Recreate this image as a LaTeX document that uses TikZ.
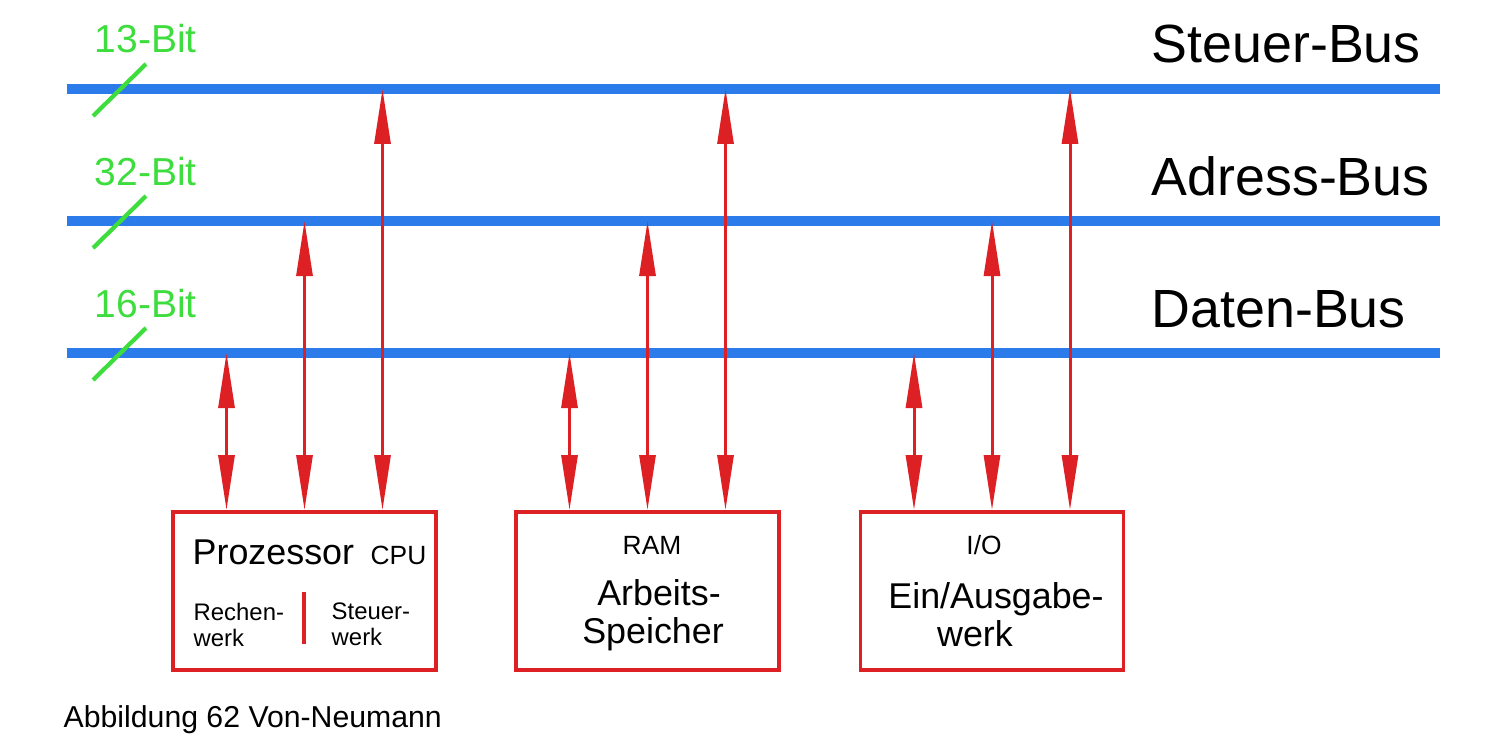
\documentclass[tikz,border=0pt]{standalone}
\usepackage{fontspec}
\setmainfont{Liberation Sans}
\usetikzlibrary{arrows.meta}
\definecolor{busblue}{RGB}{43,123,234}
\definecolor{bitgreen}{RGB}{62,221,62}
\definecolor{boxred}{RGB}{221,32,36}

\begin{document}
\begin{tikzpicture}[
    bus/.style={
        draw=busblue,
        line width=2.8pt
    },
    slash/.style={
        draw=bitgreen,
        line width=1.2pt
    },
    bitlbl/.style={
        text=bitgreen,
        inner sep=0,
        anchor=base west,
        font=\fontsize{11.1}{13}\selectfont
    },
    buslbl/.style={
        inner sep=0,
        anchor=base west,
        font=\fontsize{15.3}{18}\selectfont
    },
    box/.style={
        draw=boxred,
        line width=1.1pt,
        minimum width=2.63cm,
        minimum height=1.58cm,
        inner sep=0
    },
    arr/.style={
        {Triangle[length=5.5mm,width=1.6mm]}-{Triangle[length=5.5mm,width=1.6mm]},
        draw=boxred,
        line width=0.85pt
    },
    divider/.style={
        draw=boxred,
        line width=1.2pt
    },
    boxtxt/.style={
        inner sep=0,
        align=center,
        font=\fontsize{10.2}{10.9}\selectfont
    },
    tagtxt/.style={
        inner sep=0,
        anchor=base,
        font=\fontsize{7.5}{9}\selectfont
    },
    subtxt/.style={
        inner sep=0,
        anchor=north west,
        align=left,
        font=\fontsize{6.8}{7.4}\selectfont
    }
]

\useasboundingbox (0,0) rectangle (14.9,-7.42);

% ============================================================
% Buses
% ============================================================

\foreach \name/\y/\bits/\txt in {steuer/0.89/13/Steuer-Bus,
                                 adress/2.21/32/Adress-Bus,
                                 daten/3.53/16/Daten-Bus} {
    \coordinate (\name L) at (0.67,-\y);
    \coordinate (\name R) at (14.40,-\y);
    \draw[bus] (\name L) -- (\name R);
    \draw[slash] ([shift={(0.26,-0.27)}]\name L) -- ++(0.53,0.52);
    \node[bitlbl] (\name bits) at ([shift={(0.27,0.36)}]\name L) {\bits-Bit};
    \node[buslbl] (\name lbl) at ([shift={(-2.89,0.26)}]\name R) {\txt};
}

% ============================================================
% Units
% ============================================================

\node[box] (cpu) at (3.045,-5.91) {};
\node[box] (ram) at (6.475,-5.91) {};
\node[box] (io) at (9.92,-5.91) {};

\foreach \b in {cpu,ram,io} {
    \draw[arr] ([xshift=-7.8mm]\b.north) -- ([xshift=-7.8mm]\b.north |- datenL);
    \draw[arr] (\b.north) -- (\b.north |- adressL);
    \draw[arr] ([xshift=7.8mm]\b.north) -- ([xshift=7.8mm]\b.north |- steuerL);
}

% CPU
\node[inner sep=0, anchor=base west, font=\fontsize{10.2}{12}\selectfont] (proz) at (1.92,-5.64)
{Prozessor};

\node[tagtxt, anchor=base west] (cpulbl) at (3.70,-5.64)
{CPU};

\node[subtxt] (rechen) at (1.93,-6.02)
{Rechen-\\werk};

\node[subtxt] (steuerw) at (3.31,-6.02)
{Steuer-\\werk};

\draw[divider] (3.04,-5.92) -- (3.04,-6.44);

% RAM
\node[tagtxt] (ramlbl) at (6.52,-5.54)
{RAM};

\node[boxtxt, anchor=north] (arbeit) at (6.53,-5.79)
{\hspace*{1.2mm}Arbeits-\\Speicher};

% I/O
\node[tagtxt] (iolbl) at (9.84,-5.54)
{I/O};

\node[boxtxt, anchor=north] (ausgabe) at (9.96,-5.82)
{Ein/Ausgabe-\\werk\hspace*{4.2mm}};

% caption
\node[inner sep=0, anchor=base west, font=\fontsize{8.6}{10}\selectfont] (caption) at (0.63,-7.27)
{Abbildung 62 Von-Neumann};

\end{tikzpicture}
\end{document}
